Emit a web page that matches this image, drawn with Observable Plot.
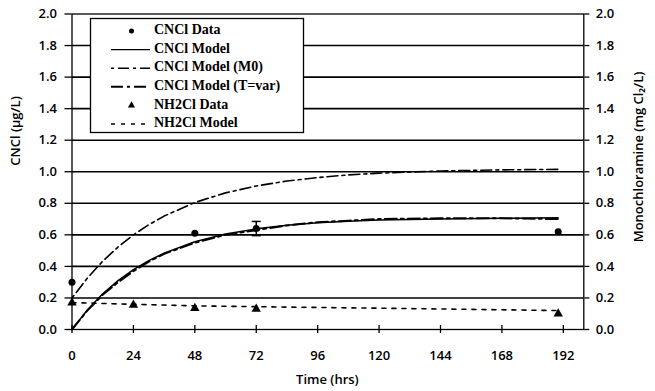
<!DOCTYPE html>
<html><head><meta charset="utf-8">
<script src="https://cdn.jsdelivr.net/npm/d3@7"></script>
<script src="https://cdn.jsdelivr.net/npm/@observablehq/plot@0.6"></script>
<style>
body{margin:0;background:#fff}
#chart{position:relative;width:655px;height:391px}
</style>
</head><body><div id="chart"></div>
<script>
// ---- data ----
const cnclDataT = [0, 48, 72, 190];
const cnclDataV = [0.30, 0.61, 0.64, 0.62];
const errT = [72];
const errLo = [0.595];
const errHi = [0.685];

const modelT        = [0, 6, 12, 18, 24, 30, 36, 48, 60, 72, 84, 96, 108, 120, 144, 168, 190];
const cnclModel     = [0, 0.124, 0.226, 0.31, 0.38, 0.437, 0.484, 0.556, 0.605, 0.638, 0.661, 0.677, 0.687, 0.694, 0.70, 0.705, 0.708];
const cnclModelM0   = [0.2, 0.326, 0.433, 0.523, 0.6, 0.664, 0.719, 0.805, 0.866, 0.91, 0.941, 0.963, 0.98, 0.991, 1.005, 1.012, 1.015];
const cnclModelTvar = [0, 0.12, 0.22, 0.30, 0.37, 0.43, 0.48, 0.55, 0.60, 0.63, 0.66, 0.68, 0.69, 0.70, 0.705, 0.705, 0.70];

const nh2clDataT = [0, 24, 48, 72, 190];
const nh2clDataV = [0.17, 0.155, 0.135, 0.13, 0.10];
const nh2clModel = [0.17, 0.168, 0.165, 0.162, 0.16, 0.157, 0.155, 0.15, 0.147, 0.145, 0.142, 0.14, 0.137, 0.135, 0.13, 0.125, 0.12];

const yTicks = [0, 0.2, 0.4, 0.6, 0.8, 1.0, 1.2, 1.4, 1.6, 1.8, 2.0];
const xTicks = [0, 24, 48, 72, 96, 120, 144, 168, 192];
const legendLabels = ["CNCl Data", "CNCl Model", "CNCl Model (M0)", "CNCl Model (T=var)", "NH2Cl Data", "NH2Cl Model"];
const yLabelLeft = "CNCl (\u00b5g/L)";
const yLabelRight = "Monochloramine (mg Cl\u2082/L)";
const xLabel = "Time (hrs)";

// ---- tables ----
const cnclPts = cnclDataT.map((t, i) => ({t, v: cnclDataV[i]}));
const errPts = errT.map((t, i) => ({t, lo: errLo[i], hi: errHi[i]}));
const mk = arr => modelT.map((t, i) => ({t, v: arr[i]}));
const nhPts = nh2clDataT.map((t, i) => ({t, v: nh2clDataV[i]}));

const capSymbol = {draw(ctx, size) { const w = 4.5; ctx.moveTo(-w, 0); ctx.lineTo(w, 0); }};

const dashM0 = "3,4,11,4";
const dashTvar = "12,4,3,4";
const dashNH = "4,6";

const tickFont = {fontFamily: "'Open Sans', sans-serif", fontSize: 13, fontWeight: 600};

const plot = Plot.plot({
  width: 655, height: 391,
  marginLeft: 71.5, marginRight: 71.7, marginTop: 13.5, marginBottom: 62,
  style: {fontFamily: "'Open Sans', sans-serif", fontSize: "13px", color: "black", background: "white", overflow: "visible"},
  x: {domain: [0, 200]},
  y: {domain: [0, 2]},
  marks: [
    Plot.ruleY(yTicks.slice(1, -1), {stroke: "black", strokeWidth: 1.6}),
    Plot.frame({stroke: "black", strokeWidth: 1.3}),
    Plot.axisY(yTicks, {anchor: "left", tickSize: 7, tickPadding: 8, tickFormat: d3.format(".1f"), label: null, ...tickFont, strokeWidth: 1.3}),
    Plot.axisY(yTicks, {anchor: "right", tickSize: 5, tickPadding: 7, tickFormat: d3.format(".1f"), label: null, ...tickFont, strokeWidth: 1.3}),
    Plot.axisX(xTicks, {anchor: "bottom", tickSize: 4, tickPadding: 17, label: null, ...tickFont, strokeWidth: 1.3}),
    Plot.axisX(xTicks, {anchor: "bottom", tickSize: 4, dy: -4, tickFormat: () => "", label: null, strokeWidth: 1.3}),
    // models
    Plot.line(mk(cnclModel), {x: "t", y: "v", stroke: "black", strokeWidth: 1.5}),
    Plot.line(mk(cnclModelM0), {x: "t", y: "v", stroke: "black", strokeWidth: 1.6, strokeDasharray: dashM0}),
    Plot.line(mk(cnclModelTvar), {x: "t", y: "v", stroke: "black", strokeWidth: 2, strokeDasharray: dashTvar}),
    Plot.line(mk(nh2clModel), {x: "t", y: "v", stroke: "black", strokeWidth: 1.6, strokeDasharray: dashNH}),
    // error bar
    Plot.ruleX(errPts, {x: "t", y1: "lo", y2: "hi", stroke: "black", strokeWidth: 1.5}),
    Plot.dot(errPts, {x: "t", y: "lo", symbol: capSymbol, stroke: "black", strokeWidth: 1.5, r: 4}),
    Plot.dot(errPts, {x: "t", y: "hi", symbol: capSymbol, stroke: "black", strokeWidth: 1.5, r: 4}),
    // data
    Plot.dot(cnclPts, {x: "t", y: "v", r: 3.5, fill: "black", stroke: "none"}),
    Plot.dot(nhPts, {x: "t", y: "v", symbol: "triangle", r: 3.5, fill: "black", stroke: "none"})
  ]
});
document.getElementById("chart").appendChild(plot);

// ---- axis titles & legend ----
const svg = d3.select(plot);
const titleFont = "'Open Sans', sans-serif";
svg.append("text").attr("transform", "translate(17,131) rotate(-90)")
  .attr("text-anchor", "middle").attr("dominant-baseline", "middle")
  .attr("font-family", titleFont).attr("font-size", 13).attr("font-weight", 600).text(yLabelLeft);
svg.append("text").attr("transform", "translate(640,157) rotate(-90)")
  .attr("text-anchor", "middle").attr("dominant-baseline", "middle")
  .attr("font-family", titleFont).attr("font-size", 13).attr("font-weight", 600).text(yLabelRight);
svg.append("text").attr("x", 327.4).attr("y", 381)
  .attr("text-anchor", "middle").attr("dominant-baseline", "middle")
  .attr("font-family", titleFont).attr("font-size", 13).attr("font-weight", 600).text(xLabel);

const lg = svg.append("g");
lg.append("rect").attr("x", 90.5).attr("y", 18.5).attr("width", 213).attr("height", 114)
  .attr("fill", "white").attr("stroke", "black").attr("stroke-width", 1.3);
const kinds = ["dot", "solid", dashM0, dashTvar, "tri", dashNH];
legendLabels.forEach((lab, i) => {
  const y = 31 + i * 18.6;
  const k = kinds[i];
  if (k === "dot") {
    lg.append("circle").attr("cx", 131.5).attr("cy", y).attr("r", 2.5).attr("fill", "black");
  } else if (k === "tri") {
    lg.append("path").attr("d", d3.symbol(d3.symbolTriangle, 22)()).attr("transform", `translate(131.5,${y})`).attr("fill", "black");
  } else {
    lg.append("line").attr("x1", 111).attr("x2", 150).attr("y1", y).attr("y2", y)
      .attr("stroke", "black").attr("stroke-width", k === dashTvar ? 2 : 1.4)
      .attr("stroke-dasharray", k === "solid" ? null : k);
  }
  lg.append("text").attr("x", 154).attr("y", y).attr("dominant-baseline", "middle")
    .attr("text-anchor", "start")
    .attr("font-family", "'Liberation Serif', serif").attr("font-size", 14).attr("font-weight", 700)
    .text(lab);
});
</script>
</body></html>
